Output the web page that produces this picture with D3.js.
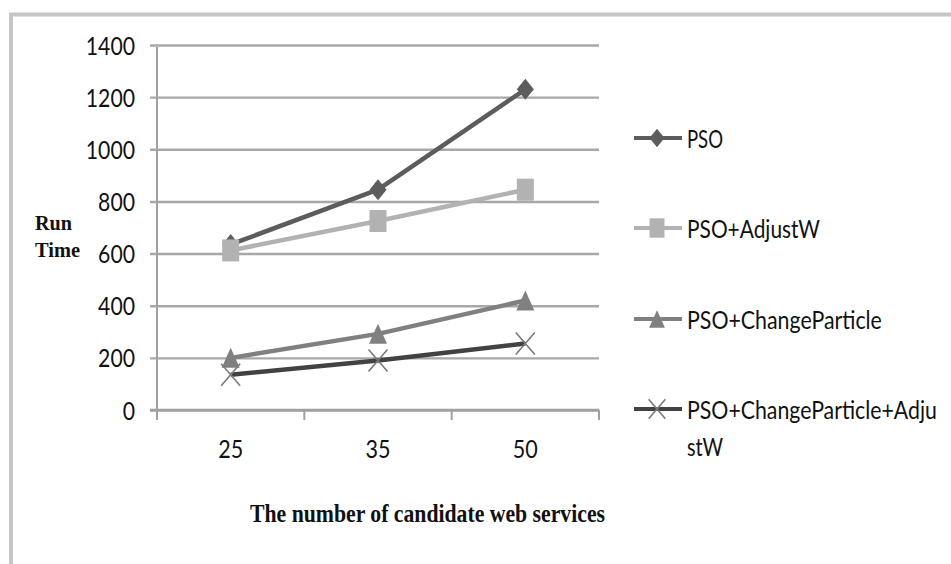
<!DOCTYPE html>
<html>
<head>
<meta charset="utf-8">
<script src="https://cdn.jsdelivr.net/npm/d3@7"></script>
<style>
  html, body { margin: 0; padding: 0; background: #fff; }
  svg { display: block; }
</style>
</head>
<body>
<div id="chart"></div>
<script>
"use strict";

// --- data ---
const categories = ["25", "35", "50"];
const yTicks = [0, 200, 400, 600, 800, 1000, 1200, 1400];
const seriesNames = ["PSO", "PSO+AdjustW", "PSO+ChangeParticle", "PSO+ChangeParticle+AdjustW"];
const psoValues = [635, 845, 1230];
const psoAdjustWValues = [612, 725, 845];
const psoChangeValues = [200, 292, 420];
const psoChangeAdjustWValues = [135, 190, 255];

// --- layout ---
const W = 951, H = 564;
const P = { left: 157, right: 599, top: 45, bottom: 410 };

const series = [
  { name: seriesNames[0], values: psoValues, color: "#5c5c5c", marker: "diamond" },
  { name: seriesNames[1], values: psoAdjustWValues, color: "#b2b2b2", marker: "square" },
  { name: seriesNames[2], values: psoChangeValues, color: "#808080", marker: "triangle" },
  { name: seriesNames[3], values: psoChangeAdjustWValues, color: "#424242", marker: "cross" }
];

// legend text split as in the picture (last label wraps)
const legendLines = [["PSO"], ["PSO+AdjustW"], ["PSO+ChangeParticle"], ["PSO+ChangeParticle+Adju", "stW"]];
const legendWidths = [[36], [133], [195], [250, 36]];

const svg = d3.select("#chart").append("svg").attr("width", W).attr("height", H);
svg.append("rect").attr("width", W).attr("height", H).attr("fill", "#fff");

// outer frame, runs off right and bottom edges
svg.append("rect")
  .attr("x", 11).attr("y", 14.5).attr("width", W + 20).attr("height", H + 20)
  .attr("fill", "none").attr("stroke", "#c6c6c6").attr("stroke-width", 4);

const x = d3.scaleBand().domain(categories).range([P.left, P.right]);
const y = d3.scaleLinear().domain([0, 1400]).range([P.bottom, P.top]);

const g = svg.append("g");
const sans = "Lato, 'Noto Sans', sans-serif";

// --- gridlines + y labels ---
const yAxis = g.append("g")
  .attr("transform", `translate(${P.left},0)`)
  .call(d3.axisLeft(y).tickValues(yTicks).tickFormat(d3.format("d"))
    .tickSize(-(P.right - P.left)).tickPadding(22));
yAxis.select(".domain").remove();
yAxis.selectAll(".tick line")
  .attr("x1", -7).attr("stroke", "#a8a8a8").attr("stroke-width", 2.4);
yAxis.selectAll(".tick text")
  .attr("fill", "#111").style("font-family", sans).style("font-size", "25px")
  .attr("dy", "0.36em")
  .attr("textLength", d => String(d).length * 12.3).attr("lengthAdjust", "spacingAndGlyphs");

// vertical axis line
g.append("line")
  .attr("x1", P.left).attr("x2", P.left).attr("y1", y(1400) + 2).attr("y2", P.bottom + 10)
  .attr("stroke", "#a0a0a0").attr("stroke-width", 2);

// --- x axis ---
const xAxis = g.append("g")
  .attr("transform", `translate(0,${P.bottom})`)
  .call(d3.axisBottom(x).tickSize(0).tickPadding(48));
xAxis.select(".domain").remove();
xAxis.selectAll(".tick text")
  .attr("fill", "#111").style("font-family", sans).style("font-size", "25px")
  .attr("dy", "0")
  .attr("textLength", d => d.length * 12.5).attr("lengthAdjust", "spacingAndGlyphs");

const bounds = categories.map(c => x(c)).concat([x.range()[1]]);
g.append("line")
  .attr("x1", P.left - 7).attr("x2", P.right).attr("y1", P.bottom).attr("y2", P.bottom)
  .attr("stroke", "#a0a0a0").attr("stroke-width", 2.4);
g.selectAll(".xb").data(bounds.slice(1)).enter().append("line")
  .attr("x1", d => d).attr("x2", d => d).attr("y1", P.bottom).attr("y2", P.bottom + 10)
  .attr("stroke", "#a0a0a0").attr("stroke-width", 2);

// --- axis titles ---
const serif = "'Liberation Serif', 'Times New Roman', serif";
const runTime = g.append("g").style("font-family", serif).style("font-weight", "bold").style("font-size", "21px").attr("fill", "#111");
runTime.append("text").attr("x", 35).attr("y", 230).attr("textLength", 37).attr("lengthAdjust", "spacingAndGlyphs").text("Run");
runTime.append("text").attr("x", 35).attr("y", 257).attr("textLength", 45).attr("lengthAdjust", "spacingAndGlyphs").text("Time");

g.append("text")
  .attr("x", 250).attr("y", 522)
  .style("font-family", serif).style("font-weight", "bold").style("font-size", "26px").attr("fill", "#111")
  .attr("textLength", 355).attr("lengthAdjust", "spacingAndGlyphs")
  .text("The number of candidate web services");

// --- markers ---
function markerPath(type, w, h) {
  const a = w / 2, b = h / 2;
  if (type === "diamond") return `M0,${-b}L${a},0L0,${b}L${-a},0Z`;
  if (type === "square") return `M${-a},${-b}H${a}V${b}H${-a}Z`;
  if (type === "triangle") return `M0,${-b}L${a},${b}H${-a}Z`;
  return `M${-a},${-b}L${a},${b}M${a},${-b}L${-a},${b}`;
}
const markerSize = { diamond: [17, 21], square: [17, 22], triangle: [18, 20], cross: [19, 22] };

function drawMarker(sel, s, scale) {
  const [w, h] = markerSize[s.marker].map(v => v * scale);
  sel.append("path")
    .attr("d", markerPath(s.marker, w, h))
    .attr("fill", s.marker === "cross" ? "none" : s.color)
    .attr("stroke", s.marker === "cross" ? "#7a7a7a" : "none")
    .attr("stroke-width", 1.6);
}

const line = d3.line().x((d, i) => x(categories[i]) + x.bandwidth() / 2).y(d => y(d));

series.forEach(s => {
  g.append("path")
    .datum(s.values)
    .attr("d", line)
    .attr("fill", "none").attr("stroke", s.color).attr("stroke-width", 4.5)
    .attr("stroke-linejoin", "round");
});
series.forEach(s => {
  s.values.forEach((v, i) => {
    const m = g.append("g").attr("transform", `translate(${x(categories[i]) + x.bandwidth() / 2},${y(v)})`);
    drawMarker(m, s, 1);
  });
});

// --- legend ---
const legendY = [138, 228, 319, 409];
const legend = g.append("g");
series.forEach((s, i) => {
  const row = legend.append("g").attr("transform", `translate(0,${legendY[i]})`);
  row.append("line").attr("x1", 634).attr("x2", 682).attr("y1", 0).attr("y2", 0)
    .attr("stroke", s.color).attr("stroke-width", 4);
  drawMarker(row.append("g").attr("transform", "translate(657,0)"), s, 0.88);
  legendLines[i].forEach((t, k) => {
    // narrow the text with a scale so its box matches the picture
    const holder = row.append("g");
    const txt = holder.append("text")
      .attr("x", 0).attr("y", 0)
      .style("font-family", sans).style("font-size", "25px").attr("fill", "#111")
      .text(t);
    const sx = legendWidths[i][k] / txt.node().getComputedTextLength();
    holder.attr("transform", `translate(687,${10 + k * 37}) scale(${sx},1)`);
  });
});
</script>
</body>
</html>
